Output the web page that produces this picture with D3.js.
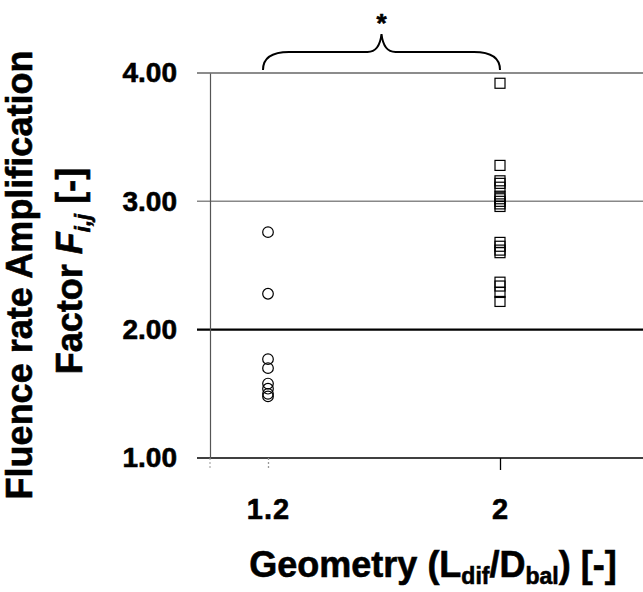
<!DOCTYPE html>
<html>
<head>
<meta charset="utf-8">
<script src="https://cdn.jsdelivr.net/npm/d3@7"></script>
<style>
  body { margin: 0; background: #fff; }
  text { font-family: "Liberation Sans", Arial, sans-serif; font-weight: bold; fill: #000;
         stroke: #000; stroke-width: 0.6px; }
</style>
</head>
<body>
<div id="chart"></div>
<script>
// Geometry categories (L_dif / D_bal)
var geometries = [1.2, 2];

// Amplification factor readings for each geometry
var factorsGeom12 = [2.76, 2.28, 1.77, 1.70, 1.58, 1.54, 1.50, 1.48];
var factorsGeom2 = [3.92, 3.28, 3.16, 3.14, 3.11, 3.04, 3.02, 3.00, 2.98, 2.96,
    2.68, 2.65, 2.62, 2.60, 2.37, 2.34, 2.29, 2.22];

// Tick labels on the y axis
var yTicks = [1, 2, 3, 4];

var svgWidth = 643;
var svgHeight = 592;

var svg = d3.select("#chart")
    .append("svg")
    .attr("width", svgWidth)
    .attr("height", svgHeight);

svg.append("rect")
    .attr("width", svgWidth)
    .attr("height", svgHeight)
    .attr("fill", "#fff");

// Scales
var xScale = d3.scaleLinear()
    .domain([1.2, 2])
    .range([268, 500]);

var yScale = d3.scaleLinear()
    .domain([1, 4])
    .range([458, 73]);

var axisX = 210;

// Horizontal gridlines (the 1.00 line doubles as the x axis)
var gridStyle = {
    1: { color: "#000", width: 1.6 },
    2: { color: "#000", width: 2.2 },
    3: { color: "#888", width: 1.5 },
    4: { color: "#666", width: 1.5 }
};

svg.append("g")
    .selectAll("line")
    .data(yTicks)
    .enter()
    .append("line")
    .attr("x1", 197)
    .attr("x2", svgWidth)
    .attr("y1", d => yScale(d))
    .attr("y2", d => yScale(d))
    .attr("stroke", d => gridStyle[d].color)
    .attr("stroke-width", d => gridStyle[d].width);

// Left axis
var leftAxis = d3.axisLeft(yScale)
    .tickValues(yTicks)
    .tickFormat(d3.format(".2f"))
    .tickSizeInner(12)
    .tickSizeOuter(0)
    .tickPadding(21);

var yAxisGroup = svg.append("g")
    .attr("transform", `translate(${axisX}, 0)`)
    .call(leftAxis);

yAxisGroup.select(".domain")
    .attr("stroke", "#555")
    .attr("stroke-width", 1.2);
yAxisGroup.selectAll(".tick line").remove();
yAxisGroup.selectAll(".tick text")
    .style("font-size", "28px");

// Bottom axis
var bottomAxis = d3.axisBottom(xScale)
    .tickValues(geometries)
    .tickFormat(d => String(d))
    .tickSizeInner(12)
    .tickSizeOuter(0)
    .tickPadding(28);

var xAxisGroup = svg.append("g")
    .attr("transform", `translate(0, ${yScale(1)})`)
    .call(bottomAxis);

xAxisGroup.select(".domain").remove();
xAxisGroup.selectAll(".tick line")
    .attr("stroke", (d, i) => i === 0 ? "#999" : "#000")
    .attr("stroke-dasharray", (d, i) => i === 0 ? "2,2" : null)
    .attr("stroke-width", 1.3);
xAxisGroup.selectAll(".tick text")
    .style("font-size", "29px")
    .style("letter-spacing", "1px");

// faint stub under the y axis
svg.append("line")
    .attr("x1", axisX)
    .attr("x2", axisX)
    .attr("y1", yScale(1))
    .attr("y2", yScale(1) + 12)
    .attr("stroke", "#999")
    .attr("stroke-dasharray", "2,2");

// Circles for geometry 1.2
svg.append("g")
    .selectAll("circle")
    .data(factorsGeom12)
    .enter()
    .append("circle")
    .attr("cx", xScale(1.2))
    .attr("cy", d => yScale(d))
    .attr("r", 5.3)
    .attr("fill", "none")
    .attr("stroke", "#000")
    .attr("stroke-width", 1.2);

// Squares for geometry 2
var sq = 10;
svg.append("g")
    .selectAll("rect")
    .data(factorsGeom2)
    .enter()
    .append("rect")
    .attr("x", xScale(2) - sq / 2)
    .attr("y", d => yScale(d) - sq / 2)
    .attr("width", sq)
    .attr("height", sq)
    .attr("fill", "none")
    .attr("stroke", "#000")
    .attr("stroke-width", 1.2);

// Significance brace between the two geometries
var bx1 = xScale(1.2) - 5;
var bx2 = xScale(2);
var bMid = (bx1 + bx2) / 2;
var bBottom = 70, bTop = 52, bPeak = 34;

var bracePath = `M${bx1},${bBottom} Q${bx1},${bTop} ${bx1 + 26},${bTop}`
    + ` L${bMid - 14},${bTop} Q${bMid - 2},${bTop} ${bMid},${bPeak}`
    + ` Q${bMid + 2},${bTop} ${bMid + 14},${bTop}`
    + ` L${bx2 - 26},${bTop} Q${bx2},${bTop} ${bx2},${bBottom}`;

svg.append("path")
    .attr("d", bracePath)
    .attr("fill", "none")
    .attr("stroke", "#000")
    .attr("stroke-width", 2);

svg.append("text")
    .attr("x", bMid)
    .attr("y", 32)
    .attr("text-anchor", "middle")
    .style("font-size", "26px")
    .text("*");

// Y axis title (two lines)
svg.append("text")
    .attr("transform", "translate(32, 275) rotate(-90)")
    .attr("text-anchor", "middle")
    .style("font-size", "36px")
    .text("Fluence rate Amplification");

var yTitle2 = svg.append("text")
    .attr("transform", "translate(82, 271) rotate(-90)")
    .attr("text-anchor", "middle")
    .style("font-size", "36px");
yTitle2.append("tspan").text("Factor ");
yTitle2.append("tspan").style("font-style", "italic").text("F");
yTitle2.append("tspan")
    .style("font-style", "italic")
    .style("font-size", "22px")
    .attr("dy", 8)
    .text("i,j");
yTitle2.append("tspan").attr("dy", -8).text(" [-]");

// X axis title
var xTitle = svg.append("text")
    .attr("x", 433)
    .attr("y", 577)
    .attr("text-anchor", "middle")
    .style("font-size", "36px");
xTitle.append("tspan").text("Geometry (L");
xTitle.append("tspan").style("font-size", "23px").attr("dy", 7).text("dif");
xTitle.append("tspan").attr("dy", -7).text("/D");
xTitle.append("tspan").style("font-size", "23px").attr("dy", 7).text("bal");
xTitle.append("tspan").attr("dy", -7).text(") [-]");
</script>
</body>
</html>
